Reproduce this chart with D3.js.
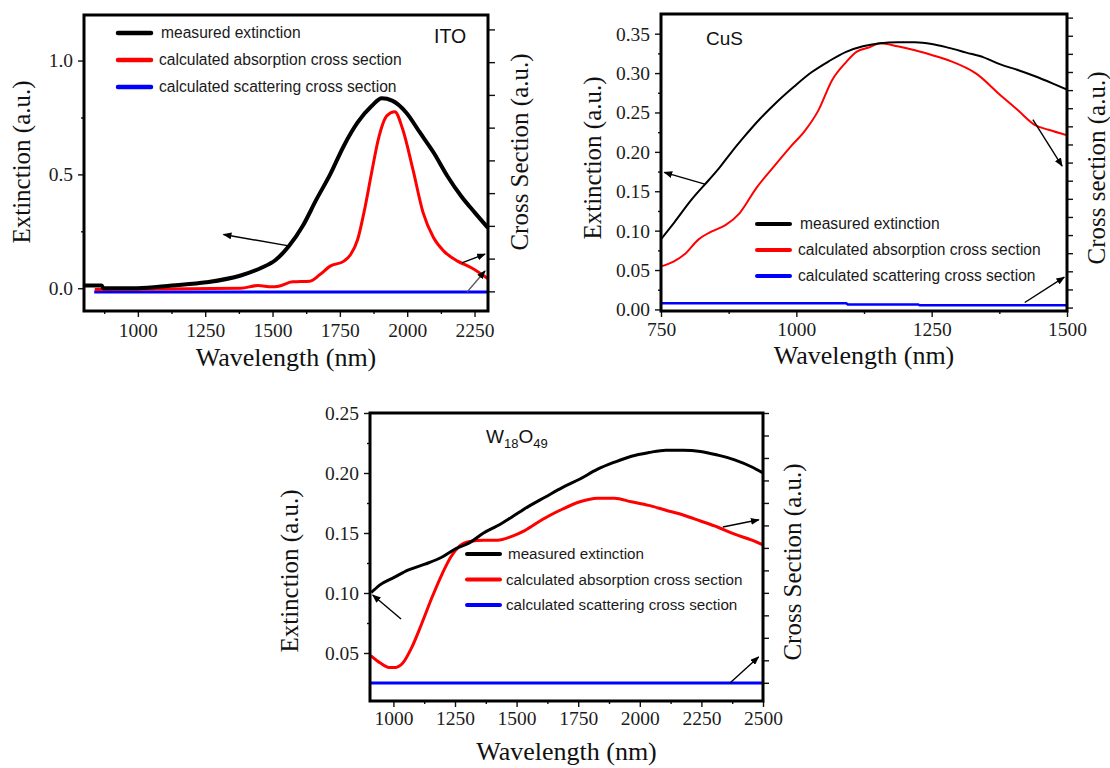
<!DOCTYPE html>
<html>
<head>
<meta charset="utf-8">
<script src="https://cdn.jsdelivr.net/npm/d3@7/dist/d3.min.js"></script>
<style>
  html, body { margin: 0; padding: 0; background: #fff; }
  svg { display: block; }
</style>
</head>
<body>
<svg id="chart" width="1110" height="768"></svg>
<script>
// ---------- data: wavelength (nm), value ----------
const itoMeasured = [[800,0.012],[866,0.012],[872,0.0],[998,0.0],[1126,0.012],[1254,0.026],[1382,0.056],[1459,0.09],[1510,0.123],[1561,0.185],[1612,0.273],[1663,0.39],[1714,0.50],[1765,0.626],[1816,0.728],[1868,0.80],[1906,0.834],[1944,0.824],[1996,0.772],[2047,0.684],[2098,0.596],[2149,0.493],[2200,0.405],[2251,0.332],[2300,0.265]];
const itoAbsorption = [[840,-0.006],[1000,-0.004],[1200,-0.002],[1382,0.0],[1446,0.012],[1497,0.006],[1523,0.009],[1574,0.028],[1638,0.031],[1676,0.06],[1714,0.097],[1765,0.119],[1790,0.148],[1816,0.214],[1842,0.347],[1868,0.508],[1893,0.655],[1925,0.758],[1954,0.775],[1983,0.699],[2021,0.523],[2059,0.332],[2098,0.222],[2136,0.163],[2187,0.119],[2238,0.09],[2300,0.042]];
const itoScattering = [[838,-0.017],[2300,-0.017]];

const cusMeasured = [[750,0.089],[774,0.110],[806,0.139],[838,0.164],[857,0.179],[876,0.196],[901,0.217],[933,0.242],[965,0.264],[996,0.283],[1028,0.301],[1060,0.315],[1092,0.327],[1123,0.334],[1155,0.338],[1187,0.339],[1219,0.339],[1250,0.337],[1282,0.332],[1314,0.326],[1346,0.320],[1377,0.311],[1409,0.304],[1441,0.296],[1473,0.287],[1500,0.279]];
const cusAbsorption = [[752,0.055],[774,0.061],[793,0.0696],[819,0.0886],[844,0.099],[869,0.107],[895,0.122],[926,0.154],[958,0.181],[990,0.207],[1015,0.226],[1041,0.253],[1066,0.291],[1092,0.314],[1111,0.327],[1136,0.333],[1155,0.338],[1187,0.334],[1219,0.329],[1250,0.323],[1282,0.316],[1333,0.299],[1377,0.272],[1409,0.253],[1441,0.234],[1466,0.228],[1500,0.221]];
const cusScattering = [[750,0.0078],[1092,0.0078],[1095,0.0064],[1225,0.0064],[1228,0.0052],[1500,0.0052]];

const w18Measured = [[910,0.1004],[947,0.107],[1003,0.113],[1059,0.119],[1128,0.124],[1198,0.130],[1254,0.137],[1310,0.142],[1366,0.150],[1422,0.156],[1478,0.163],[1547,0.172],[1617,0.180],[1687,0.188],[1757,0.195],[1827,0.203],[1897,0.209],[1966,0.214],[2036,0.217],[2106,0.219],[2176,0.219],[2246,0.218],[2315,0.215],[2385,0.211],[2455,0.205],[2500,0.200]];
const w18Absorption = [[908,0.0478],[947,0.0416],[982,0.038],[1010,0.038],[1038,0.0416],[1073,0.054],[1114,0.074],[1156,0.096],[1198,0.116],[1233,0.130],[1268,0.139],[1310,0.143],[1366,0.144],[1422,0.144],[1478,0.147],[1533,0.152],[1603,0.161],[1687,0.170],[1757,0.176],[1827,0.179],[1897,0.179],[1966,0.176],[2036,0.173],[2106,0.169],[2176,0.165],[2246,0.160],[2315,0.155],[2385,0.149],[2455,0.144],[2500,0.140]];
const w18Scattering = [[905,0.025],[2500,0.025]];

// ---------- axis ticks ----------
const itoXTicks = [1000,1250,1500,1750,2000,2250];
const itoXMinor = [875,1125,1375,1625,1875,2125];
const itoYTicks = [0.0,0.5,1.0];
const itoYMinor = [0.25,0.75];
const itoRightTicks = [0,1,2,3,4,5,6,7,8];

const cusXTicks = [750,1000,1250,1500];
const cusXMinor = [875,1125,1375];
const cusYTicks = [0.00,0.05,0.10,0.15,0.20,0.25,0.30,0.35];
const cusYMinor = [0.025,0.075,0.125,0.175,0.225,0.275,0.325];
const cusRightTicks = d3.range(0,17);

const w18XTicks = [1000,1250,1500,1750,2000,2250,2500];
const w18XMinor = [1125,1375,1625,1875,2125,2375];
const w18YTicks = [0.05,0.10,0.15,0.20,0.25];
const w18YMinor = [0.075,0.125,0.175,0.225];
const w18RightTicks = d3.range(0,13);

// ---------- legend ----------
const legendLabels = ["measured extinction","calculated absorption cross section","calculated scattering cross section"];
const seriesColors = ["#000000","#ff0000","#0000ff"];

// ---------- arrow annotations: [fromNm, fromValue, toNm, toValue] ----------
const itoArrows = [[1560,0.186,1318,0.236],[2203,0.111,2289,0.150],[2222,-0.017,2289,0.076]];
const cusArrows = [[831,0.159,756,0.174],[1437,0.241,1491,0.182],[1422,0.0088,1495,0.041]];
const w18Arrows = [[1031,0.0783,916,0.0983],[2337,0.155,2483,0.161],[2366,0.025,2482,0.0467]];

const SERIF = "'Liberation Serif','Times New Roman',serif";
const SANS = "'Liberation Sans',Arial,sans-serif";

const svg = d3.select("#chart");
const defs = svg.append("defs");
defs.append("marker")
  .attr("id","arrowHead")
  .attr("viewBox","0 0 10 8")
  .attr("refX",9).attr("refY",4)
  .attr("markerWidth",9).attr("markerHeight",7)
  .attr("markerUnits","userSpaceOnUse")
  .attr("orient","auto")
  .append("path").attr("d","M0,0 L10,4 L0,8 z").attr("fill","#000");

function fmtTick(d, digits){ return d.toFixed(digits); }

function drawPanel(p){
  const g = svg.append("g");
  const x = d3.scaleLinear().domain(p.xDomain).range([p.left, p.right]);
  const y = d3.scaleLinear().domain(p.yDomain).range([p.bottom, p.top]);
  const yR = d3.scaleLinear().domain(p.rDomain).range([p.bottom, p.top]);

  const clipId = "clip-" + p.id;
  defs.append("clipPath").attr("id", clipId)
    .append("rect").attr("x", p.left).attr("y", p.top)
    .attr("width", p.right - p.left).attr("height", p.bottom - p.top);

  // bottom axis
  const bx = g.append("g").attr("transform", `translate(0,${p.bottom})`)
    .call(d3.axisBottom(x).tickValues(p.xTicks).tickSize(6).tickSizeOuter(0).tickFormat(d3.format("d")));
  bx.append("g").call(d3.axisBottom(x).tickValues(p.xMinor).tickSize(3).tickSizeOuter(0).tickFormat(""));
  // left axis
  const ly = g.append("g").attr("transform", `translate(${p.left},0)`)
    .call(d3.axisLeft(y).tickValues(p.yTicks).tickSize(6).tickSizeOuter(0).tickPadding(5).tickFormat(d => fmtTick(d, p.yDigits)));
  ly.append("g").call(d3.axisLeft(y).tickValues(p.yMinor).tickSize(3).tickSizeOuter(0).tickFormat(""));
  // right axis (unlabelled)
  const ry = g.append("g").attr("transform", `translate(${p.right},0)`)
    .call(d3.axisRight(yR).tickValues(p.rTicks).tickSize(p.rTickLen).tickSizeOuter(0).tickFormat(""));

  [bx, ly, ry].forEach(a => {
    a.selectAll(".domain").remove();
    a.selectAll("line").attr("stroke","#111").attr("stroke-width",1.4);
  });
  bx.selectAll("text").attr("y", p.xLabelOffset).attr("dy", 0)
    .attr("font-family", SERIF).attr("font-size", 19.5).attr("fill", "#1c1c1c");
  ly.selectAll("text").attr("dy","0.33em")
    .attr("font-family", SERIF).attr("font-size", 19.5).attr("fill", "#1c1c1c");

  // series
  const line = d3.line().x(d => x(d[0])).y(d => y(d[1])).curve(d3.curveMonotoneX);
  const stepLine = d3.line().x(d => x(d[0])).y(d => y(d[1]));
  const plot = g.append("g").attr("clip-path", `url(#${clipId})`);
  plot.append("path").datum(p.scattering).attr("d", stepLine)
    .attr("fill","none").attr("stroke", seriesColors[2]).attr("stroke-width", p.widths[2]);
  plot.append("path").datum(p.absorption).attr("d", line)
    .attr("fill","none").attr("stroke", seriesColors[1]).attr("stroke-width", p.widths[1]).attr("stroke-linejoin","round");
  plot.append("path").datum(p.measured).attr("d", line)
    .attr("fill","none").attr("stroke", seriesColors[0]).attr("stroke-width", p.widths[0]).attr("stroke-linejoin","round");

  // arrows
  p.arrows.forEach((a, i) => {
    g.append("line")
      .attr("x1", x(a[0])).attr("y1", y(a[1]))
      .attr("x2", x(a[2])).attr("y2", y(a[3]))
      .attr("stroke", p.arrowColors ? p.arrowColors[i] : "#000")
      .attr("stroke-width", 1.4)
      .attr("marker-end", "url(#arrowHead)");
  });

  // frame
  g.append("rect").attr("x", p.left).attr("y", p.top)
    .attr("width", p.right - p.left).attr("height", p.bottom - p.top)
    .attr("fill","none").attr("stroke","#000").attr("stroke-width", 3);

  // legend
  legendLabels.forEach((lab, i) => {
    const ly0 = p.legend.y + i * p.legend.dy;
    g.append("line").attr("x1", p.legend.x).attr("x2", p.legend.x + 33)
      .attr("y1", ly0).attr("y2", ly0)
      .attr("stroke", seriesColors[i]).attr("stroke-width", p.legend.w).attr("stroke-linecap","round");
    g.append("text").attr("x", p.legend.tx + (i === 0 ? 2 : 0)).attr("y", ly0)
      .attr("dy","0.35em").attr("font-family", SANS).attr("font-size", p.legend.fs)
      .attr("fill","#1a1a1a").text(lab);
  });

  // axis titles
  g.append("text").attr("x", (p.left + p.right) / 2).attr("y", p.xTitleY)
    .attr("text-anchor","middle").attr("font-family", SERIF).attr("font-size", 26)
    .attr("fill","#111").text("Wavelength (nm)");
  g.append("text").attr("transform", `translate(${p.yTitle[0]},${p.yTitle[1]}) rotate(-90)`)
    .attr("text-anchor","middle").attr("font-family", SERIF).attr("font-size", 25)
    .attr("fill","#111").text("Extinction (a.u.)");
  g.append("text").attr("transform", `translate(${p.rTitle[0]},${p.rTitle[1]}) rotate(-90)`)
    .attr("text-anchor","middle").attr("font-family", SERIF).attr("font-size", 25)
    .attr("fill","#111").text(p.rTitleText);

  return g;
}

// ITO
const gIto = drawPanel({
  id:"ito", left:84, right:488, top:15, bottom:311,
  xDomain:[800,2300], yDomain:[-0.1,1.2], rDomain:[-0.6,8.44],
  xTicks:itoXTicks, xMinor:itoXMinor, yTicks:itoYTicks, yMinor:itoYMinor, rTicks:itoRightTicks, rTickLen:7,
  yDigits:1, xLabelOffset:26,
  measured:itoMeasured, absorption:itoAbsorption, scattering:itoScattering,
  widths:[4,3,3],
  arrows:itoArrows, arrowColors:["#000","#000","#555"],
  legend:{x:118, tx:159, y:33, dy:27, w:4.5, fs:15.6},
  xTitleY:366, yTitle:[30,162], rTitle:[528,152], rTitleText:"Cross Section (a.u.)"
});
gIto.append("text").attr("x",434).attr("y",43).attr("font-family",SANS).attr("font-size",19.5).attr("fill","#111").text("ITO");

// CuS
const gCus = drawPanel({
  id:"cus", left:661, right:1067, top:14, bottom:311,
  xDomain:[750,1500], yDomain:[-0.002,0.375], rDomain:[-0.19,16.2],
  xTicks:cusXTicks, xMinor:cusXMinor, yTicks:cusYTicks, yMinor:cusYMinor, rTicks:cusRightTicks, rTickLen:6,
  yDigits:2, xLabelOffset:25,
  measured:cusMeasured, absorption:cusAbsorption, scattering:cusScattering,
  widths:[2,2,2.5],
  arrows:cusArrows,
  legend:{x:757, tx:798, y:224, dy:26, w:4, fs:15.6},
  xTitleY:364, yTitle:[601,158], rTitle:[1105,168], rTitleText:"Cross section (a.u.)"
});
gCus.append("text").attr("x",706).attr("y",45).attr("font-family",SANS).attr("font-size",19).attr("fill","#111").text("CuS");

// W18O49
const gW = drawPanel({
  id:"w18", left:370, right:763, top:413, bottom:701,
  xDomain:[905,2500], yDomain:[0.01,0.25], rDomain:[-0.81,12.0],
  xTicks:w18XTicks, xMinor:w18XMinor, yTicks:w18YTicks, yMinor:w18YMinor, rTicks:w18RightTicks, rTickLen:6,
  yDigits:2, xLabelOffset:24,
  measured:w18Measured, absorption:w18Absorption, scattering:w18Scattering,
  widths:[3,3,3],
  arrows:w18Arrows,
  legend:{x:467, tx:506, y:554, dy:25.5, w:4, fs:15.2},
  xTitleY:760, yTitle:[298,571], rTitle:[801,562], rTitleText:"Cross Section (a.u.)"
});
const wLabel = gW.append("text").attr("x",486).attr("y",443).attr("font-family",SANS).attr("font-size",19).attr("fill","#111");
wLabel.append("tspan").text("W");
wLabel.append("tspan").attr("font-size",13).attr("dy",5).text("18");
wLabel.append("tspan").attr("dy",-5).text("O");
wLabel.append("tspan").attr("font-size",13).attr("dy",5).text("49");
</script>
</body>
</html>
